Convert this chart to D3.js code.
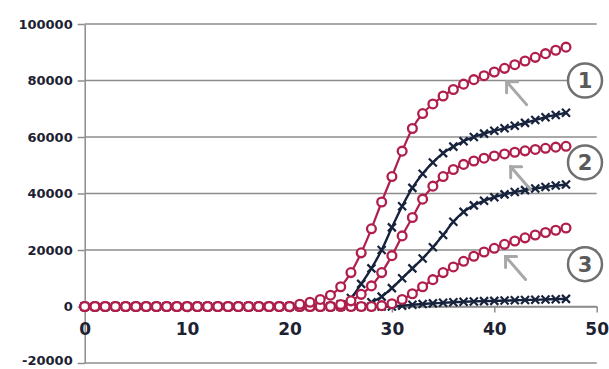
<!DOCTYPE html>
<html><head><meta charset="utf-8">
<script src="https://cdn.jsdelivr.net/npm/d3@7"></script>
<style>html,body{margin:0;padding:0;background:#fff;}svg{display:block;}</style>
</head><body>
<script>
const cycles = [0,1,2,3,4,5,6,7,8,9,10,11,12,13,14,15,16,17,18,19,20,21,22,23,24,25,26,27,28,29,30,31,32,33,34,35,36,37,38,39,40,41,42,43,44,45,46,47];
const redTop = [0,0,0,0,0,0,0,0,0,0,0,0,0,0,0,0,0,0,0,0,0,800,1500,2500,4000,7000,12000,19000,27500,37000,46000,55000,63000,68300,71700,74500,76800,78700,80300,81700,83000,84300,85600,86900,88200,89500,90700,91800];
const redMid = [0,0,0,0,0,0,0,0,0,0,0,0,0,0,0,0,0,0,0,0,0,0,0,0,0,700,2000,4300,7300,12000,18000,25000,31500,38000,42600,46000,48500,50300,51500,52500,53300,54000,54600,55100,55600,56000,56400,56700];
const redLow = [0,0,0,0,0,0,0,0,0,0,0,0,0,0,0,0,0,0,0,0,0,0,0,0,0,0,0,0,0,300,1000,2500,4500,7000,9500,12000,14000,16000,17800,19300,20600,22000,23200,24300,25300,26200,27000,27800];
const navyTop = [0,0,0,0,0,0,0,0,0,0,0,0,0,0,0,0,0,0,0,0,0,0,0,0,0,800,3000,8000,13500,20000,28000,35500,42000,47000,51000,54300,56600,58500,60000,61200,62200,63100,64000,65000,66000,67000,67800,68600];
const navyMid = [0,0,0,0,0,0,0,0,0,0,0,0,0,0,0,0,0,0,0,0,0,0,0,0,0,0,0,0,1500,3500,6500,10000,13500,17000,21000,25300,30000,33500,35800,37400,38700,39700,40500,41200,41800,42300,42800,43200];
const navyLow = [0,0,0,0,0,0,0,0,0,0,0,0,0,0,0,0,0,0,0,0,0,0,0,0,0,0,0,0,0,0,0,300,600,900,1100,1300,1500,1700,1800,1900,2000,2100,2200,2300,2400,2500,2600,2700];
const yTicks = [-20000,0,20000,40000,60000,80000,100000];
const yTickLabels = ["-20000","0","20000","40000","60000","80000","100000"];
const xTicks = [0,10,20,30,40,50];
const callouts = [{label:"1", at:80000},{label:"2", at:51000},{label:"3", at:15000}];
const arrowTargets = [{c:41.2, v:79600},{c:41.6, v:49500},{c:41.1, v:17700}];

const W=609,H=369;
const svg=d3.select("body").append("svg").attr("width",W).attr("height",H);
const x=d3.scaleLinear().domain([0,50]).range([84.7,596.7]);
const y=d3.scaleLinear().domain([-20000,100000]).range([363,24]);
const grid="#8c8c8c", textCol="#1d2232", red="#b01f4c", navy="#17233c";

// gridlines
svg.append("g").selectAll("line").data(yTicks).join("line")
  .attr("x1",x(0)).attr("x2",x(50)).attr("y1",d=>y(d)).attr("y2",d=>y(d))
  .attr("stroke",grid).attr("stroke-width",1.5);

// y axis
const yAxis=d3.axisLeft(y).tickValues(yTicks).tickSize(7).tickSizeOuter(0).tickPadding(5)
  .tickFormat((d,i)=>yTickLabels[i]);
const gy=svg.append("g").attr("transform",`translate(${x(0)},0)`).call(yAxis);
gy.select(".domain").attr("stroke",grid).attr("stroke-width",1.5);
gy.selectAll(".tick line").attr("stroke",grid).attr("stroke-width",1.5);
gy.selectAll("text").attr("fill",textCol).style("font-family","DejaVu Sans").style("font-weight","bold").style("font-size","13px");
gy.selectAll("text").filter(d=>d===-20000).attr("dy","0.1em");

// x axis at y=0
const xAxis=d3.axisBottom(x).tickValues(xTicks).tickSize(6).tickSizeOuter(0).tickPadding(10);
const gx=svg.append("g").attr("transform",`translate(0,${y(0)})`).call(xAxis);
gx.select(".domain").attr("stroke",grid).attr("stroke-width",1.5);
gx.selectAll(".tick line").attr("stroke",grid).attr("stroke-width",1.5);
gx.selectAll("text").attr("fill",textCol).style("font-family","DejaVu Sans").style("font-weight","bold").style("font-size","17px");

const line=d3.line().x((d,i)=>x(cycles[i])).y(d=>y(d)).curve(d3.curveMonotoneX);

function navySeries(vals){
  const g=svg.append("g");
  g.append("path").datum(vals).attr("d",line).attr("fill","none").attr("stroke",navy).attr("stroke-width",2.4);
  const s=4;
  g.selectAll("path.m").data(vals).join("path").attr("class","m")
    .attr("d",(d,i)=>{const cx=x(cycles[i]),cy=y(d);return `M${cx-s},${cy-s}L${cx+s},${cy+s}M${cx-s},${cy+s}L${cx+s},${cy-s}`;})
    .attr("stroke",navy).attr("stroke-width",2.2).attr("fill","none");
}
function redSeries(vals){
  const g=svg.append("g");
  g.append("path").datum(vals).attr("d",line).attr("fill","none").attr("stroke",red).attr("stroke-width",2.2);
  g.selectAll("circle").data(vals).join("circle")
    .attr("cx",(d,i)=>x(cycles[i])).attr("cy",d=>y(d)).attr("r",4.4)
    .attr("fill","#fff").attr("stroke",red).attr("stroke-width",2.3);
}
navySeries(navyLow); navySeries(navyMid); navySeries(navyTop);
redSeries(redLow); redSeries(redMid); redSeries(redTop);

// arrows
const ag=svg.append("g").attr("stroke","#a8a8a8").attr("stroke-width",3).attr("fill","none").attr("stroke-linecap","round");
arrowTargets.forEach(a=>{
  const hx=x(a.c), hy=y(a.v);
  ag.append("path").attr("d",`M${hx+20},${hy+23}L${hx},${hy}`);
  ag.append("path").attr("d",`M${hx+11},${hy}L${hx},${hy}L${hx},${hy+11}`);
});

// callouts
callouts.forEach(c=>{
  const cy=y(c.at), cx=585;
  svg.append("circle").attr("cx",cx).attr("cy",cy).attr("r",17).attr("fill","#fff").attr("stroke","#707070").attr("stroke-width",2.5);
  svg.append("text").attr("x",cx).attr("y",cy+7.5).attr("text-anchor","middle").attr("fill","#595959")
    .style("font-family","DejaVu Sans").style("font-weight","bold").style("font-size","21px").text(c.label);
});
</script>
</body></html>
